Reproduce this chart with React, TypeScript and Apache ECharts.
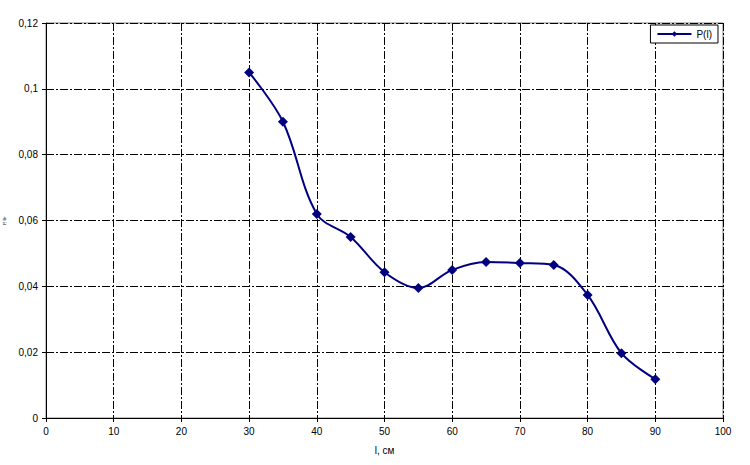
import React, { useEffect, useRef } from "react";
import * as echarts from "echarts";

const xValues = [30, 35, 40, 45, 50, 55, 60, 65, 70, 75, 80, 85, 90];
const pValues = [0.105, 0.09, 0.062, 0.055, 0.0443, 0.0395, 0.045, 0.0474, 0.0471, 0.0465, 0.0374, 0.0197, 0.0118];
const seriesName = "P(l)";
const xAxisName = "l, см";
const yAxisName = "Р, Вт";

const fmt = (v: number) => (v === 0 ? "0" : String(Number(v.toFixed(2))).replace(".", ","));

export default function App() {
  const ref = useRef<HTMLDivElement>(null);
  useEffect(() => {
    if (!ref.current) return;
    const chart = echarts.init(ref.current, null, { renderer: "svg" });
    const gridLine = { show: true, lineStyle: { color: "#000", width: 1, type: [8, 2, 2, 2] as any } };
    const font = "Liberation Sans, Arial, sans-serif";
    chart.setOption({
      animation: false,
      backgroundColor: "#fff",
      grid: {
        left: 46, top: 23, right: 27, bottom: 47,
        outerBoundsMode: "none", containLabel: false,
        show: true, borderColor: "#808080", borderWidth: 1,
      },
      legend: {
        right: 32,
        top: 25,
        itemWidth: 34,
        itemHeight: 7,
        itemGap: 4,
        padding: [4, 6, 4, 6],
        borderColor: "#000",
        borderWidth: 1,
        borderRadius: 0,
        backgroundColor: "#fff",
        textStyle: { fontFamily: font, fontSize: 10, color: "#000" },
        data: [seriesName],
      },
      xAxis: {
        type: "value",
        min: 0,
        max: 100,
        interval: 10,
        name: xAxisName,
        nameLocation: "middle",
        nameGap: 27,
        nameTextStyle: { fontFamily: font, fontSize: 10, color: "#000" },
        axisLine: { onZero: false, lineStyle: { color: "#000", width: 1 } },
        axisTick: { show: true, length: 4, lineStyle: { color: "#000" } },
        axisLabel: { fontFamily: font, fontSize: 10, color: "#000", margin: 8 },
        splitLine: gridLine,
      },
      yAxis: {
        type: "value",
        min: 0,
        max: 0.12,
        interval: 0.02,
        name: yAxisName,
        nameLocation: "middle",
        nameGap: 40,
        nameRotate: 90,
        nameTextStyle: { fontFamily: font, fontSize: 4, color: "#000" },
        axisLine: { show: true, lineStyle: { color: "#000", width: 1 } },
        axisTick: { show: true, length: 4, lineStyle: { color: "#000" } },
        axisLabel: { fontFamily: font, fontSize: 10, color: "#000", margin: 8, formatter: fmt },
        splitLine: gridLine,
      },
      series: [
        {
          name: seriesName,
          type: "line",
          smooth: 0.35,
          data: xValues.map((x, i) => [x, pValues[i]]),
          symbol: "diamond",
          symbolSize: 10,
          lineStyle: { color: "#000080", width: 2 },
          itemStyle: { color: "#000080" },
        },
      ],
    });
    return () => chart.dispose();
  }, []);
  return <div ref={ref} style={{ width: 750, height: 465, position: "absolute", left: 0, top: 0 }} />;
}
